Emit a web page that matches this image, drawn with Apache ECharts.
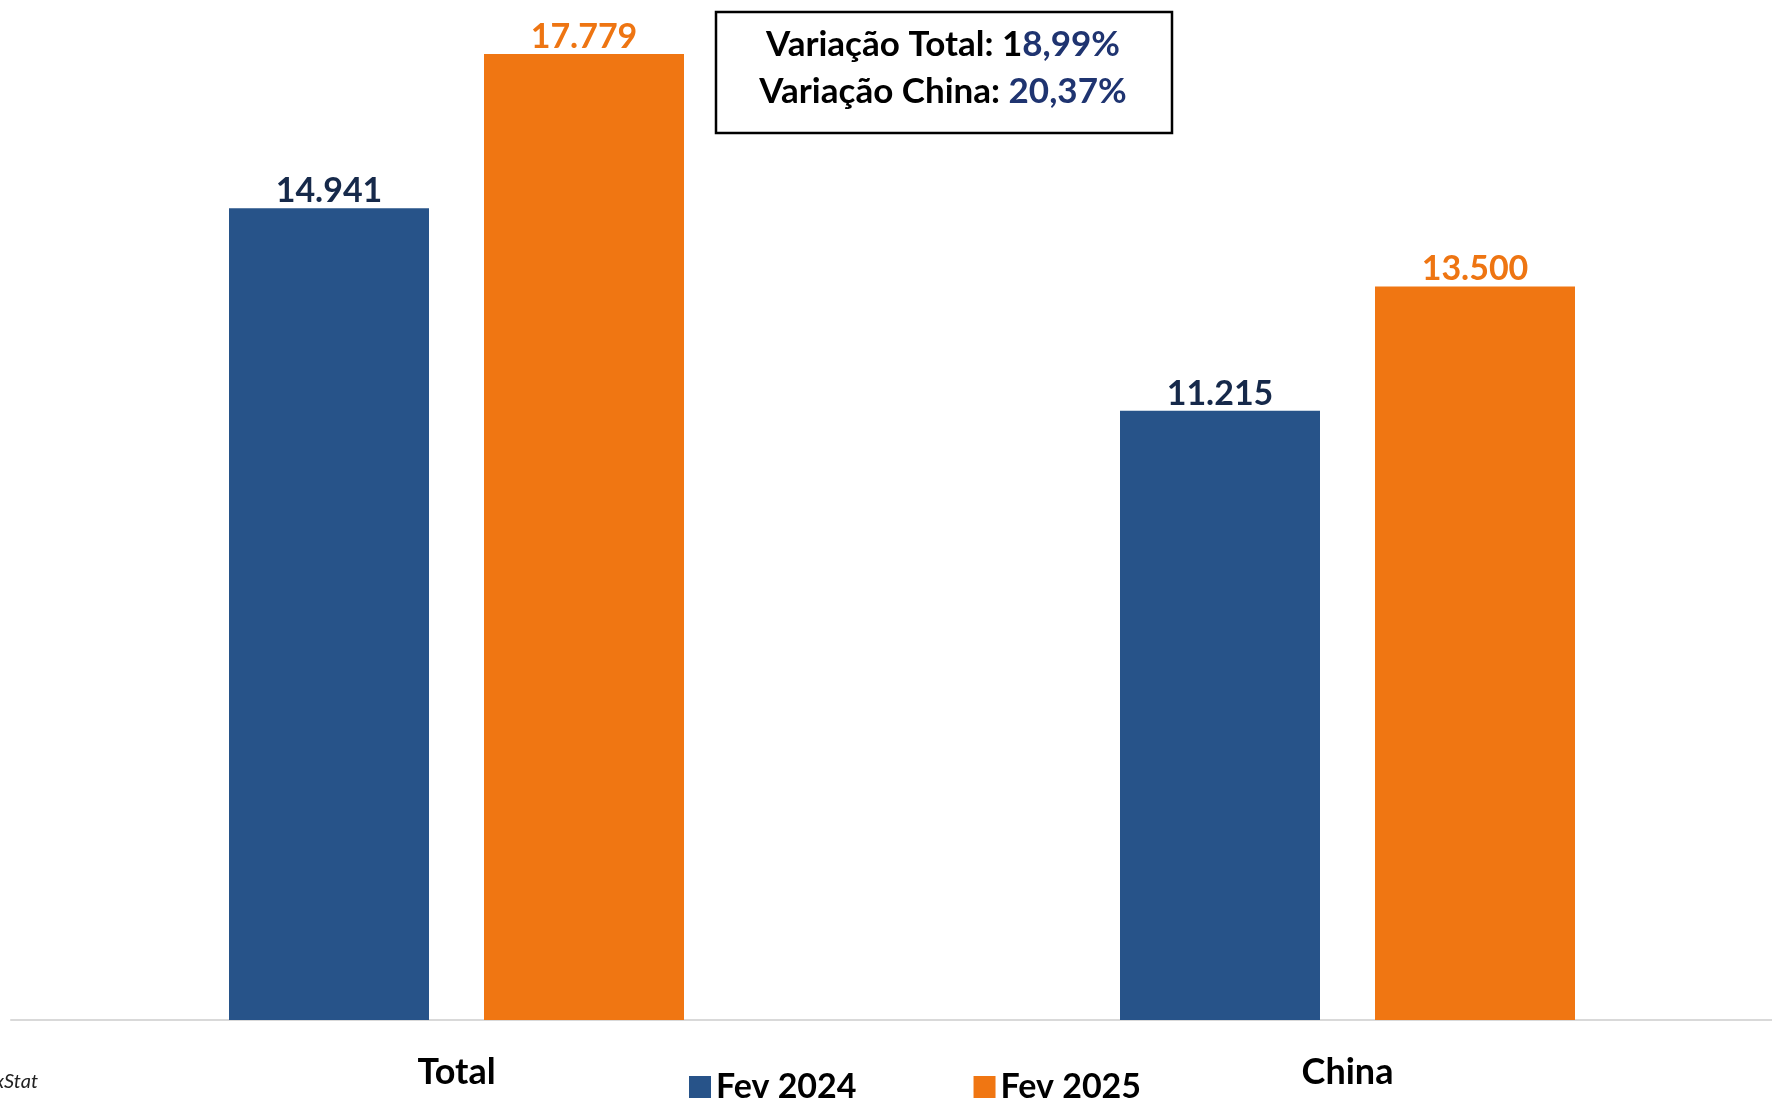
<!DOCTYPE html>
<html>
<head>
<meta charset="utf-8">
<script src="https://cdn.jsdelivr.net/npm/echarts@6/dist/echarts.min.js"></script>
<style>
  html, body { margin: 0; padding: 0; background: #fff; }
  #main { width: 1772px; height: 1098px; }
</style>
</head>
<body>
<div id="main"></div>
<script>
// dados
var categories = ['Total', 'China'];
var serieNames = ['Fev 2024', 'Fev 2025'];
var fev2024 = [14941, 11215];
var fev2025 = [17779, 13500];
var variacaoLabels = ['Variação Total: ', 'Variação China: '];
var variacaoValores = ['18,99%', '20,37%'];
var fonte = 'Fonte: ComexStat';

var FONT = 'Lato';
var AZUL = '#275389';
var LARANJA = '#F07612';

function fmt(v) {
    // 14941 -> 14.941
    return String(v).replace(/\B(?=(\d{3})+(?!\d))/g, '.');
}

var chart = echarts.init(document.getElementById('main'), null, { renderer: 'canvas' });

var option = {
    backgroundColor: '#ffffff',
    animation: false,
    grid: {
        left: 11,
        right: -21,
        top: 42,
        bottom: 78,
        outerBoundsMode: 'none',
        containLabel: false
    },
    legend: {
        data: serieNames,
        left: 684,
        top: 1065,
        icon: 'rect',
        itemWidth: 22,
        itemHeight: 22,
        itemGap: 117,
        textStyle: {
            fontFamily: FONT,
            fontWeight: 'bold',
            fontSize: 34,
            color: '#000'
        }
    },
    xAxis: [{
        type: 'category',
        data: categories,
        axisTick: { show: false },
        axisLine: {
            show: true,
            lineStyle: { color: '#d9d9d9', width: 2 }
        },
        axisLabel: {
            margin: 34,
            fontFamily: FONT,
            fontWeight: 'bold',
            fontSize: 36,
            color: '#000'
        }
    }],
    yAxis: [{
        type: 'value',
        min: 0,
        max: 18000,
        show: false,
        splitLine: { show: false }
    }],
    series: [
        {
            name: serieNames[0],
            type: 'bar',
            data: fev2024,
            barWidth: 200,
            barGap: '27.5%',
            itemStyle: { color: AZUL },
            label: {
                show: true,
                position: 'top',
                distance: 0,
                formatter: function (p) { return fmt(p.value); },
                fontFamily: FONT,
                fontWeight: 'bold',
                fontSize: 34,
                color: '#16294A'
            }
        },
        {
            name: serieNames[1],
            type: 'bar',
            data: fev2025,
            barWidth: 200,
            itemStyle: { color: LARANJA },
            label: {
                show: true,
                position: 'top',
                distance: 0,
                formatter: function (p) { return fmt(p.value); },
                fontFamily: FONT,
                fontWeight: 'bold',
                fontSize: 34,
                color: '#EE7512'
            }
        }
    ],
    graphic: [
        {
            type: 'rect',
            shape: { x: 716, y: 12, width: 456, height: 121 },
            style: { fill: '#fff', stroke: '#000', lineWidth: 2.5 }
        },
        {
            type: 'text',
            x: 943,
            y: 45,
            style: {
                // o "1" fica preto no original
                text: '{a|' + variacaoLabels[0] + variacaoValores[0].slice(0, 1) + '}{b|' + variacaoValores[0].slice(1) + '}',
                align: 'center',
                verticalAlign: 'middle',
                rich: {
                    a: { fontFamily: FONT, fontWeight: 'bold', fontSize: 35, fill: '#000' },
                    b: { fontFamily: FONT, fontWeight: 'bold', fontSize: 35, fill: '#1F3470' }
                }
            }
        },
        {
            type: 'text',
            x: 943,
            y: 92,
            style: {
                text: '{a|' + variacaoLabels[1] + '}{b|' + variacaoValores[1] + '}',
                align: 'center',
                verticalAlign: 'middle',
                rich: {
                    a: { fontFamily: FONT, fontWeight: 'bold', fontSize: 35, fill: '#000' },
                    b: { fontFamily: FONT, fontWeight: 'bold', fontSize: 35, fill: '#1F3470' }
                }
            }
        },
        {
            type: 'text',
            x: 38,
            y: 1082,
            style: {
                text: fonte,
                align: 'right',
                verticalAlign: 'middle',
                fontFamily: FONT,
                fontStyle: 'italic',
                fontSize: 20,
                fill: '#222'
            }
        }
    ]
};

chart.setOption(option);
</script>
</body>
</html>
